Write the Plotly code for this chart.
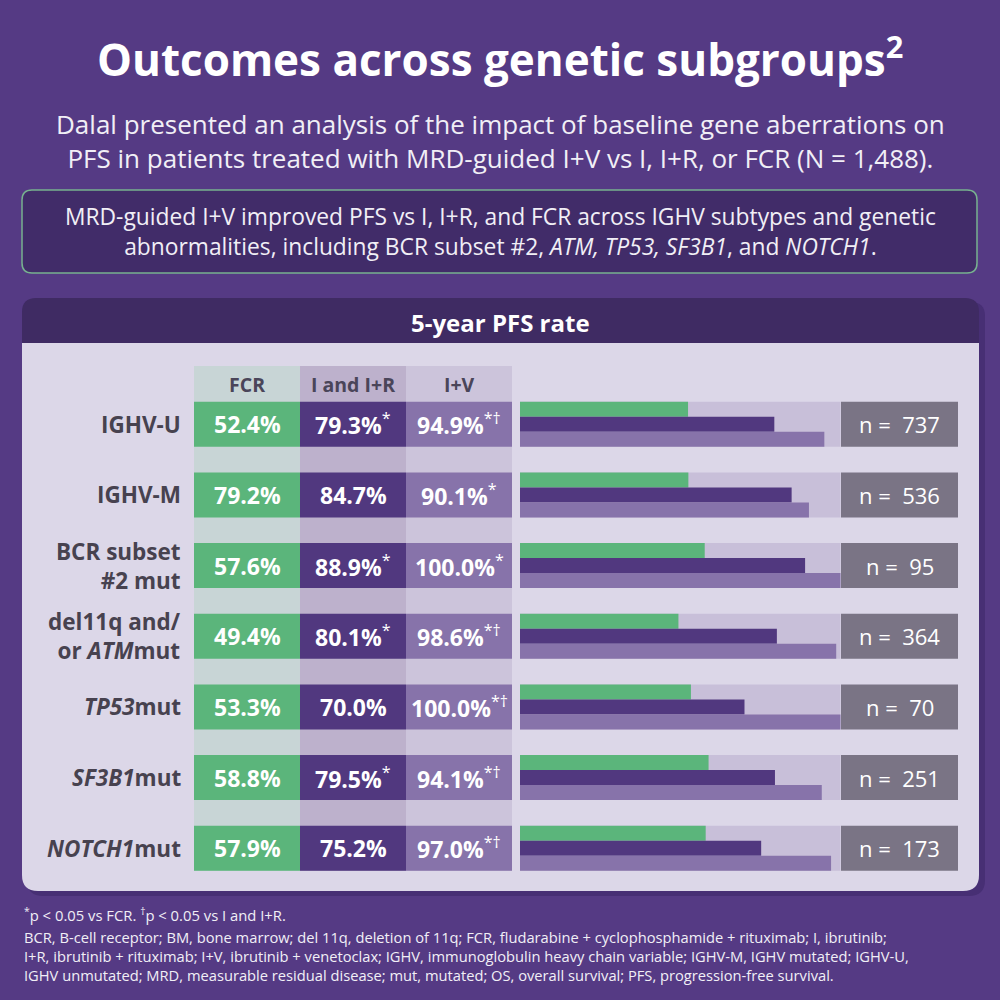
import plotly.graph_objects as go

# data
groups = ['IGHV-U', 'IGHV-M', 'BCR subset<br>#2 mut', 'del11q and/<br>or <i>ATM</i>mut',
          '<i>TP53</i>mut', '<i>SF3B1</i>mut', '<i>NOTCH1</i>mut']
fcr = [52.4, 79.2, 57.6, 49.4, 53.3, 58.8, 57.9]
i_ir = [79.3, 84.7, 88.9, 80.1, 70.0, 79.5, 75.2]
i_v = [94.9, 90.1, 100.0, 98.6, 100.0, 94.1, 97.0]
# FCR bar lengths as drawn in the source graphic (IGHV-M bar is drawn at ~52.5)
fcr_bar = [52.4, 52.5, 57.6, 49.4, 53.3, 58.8, 57.9]
i_ir_marks = ['*', '', '*', '*', '', '*', '']
i_v_marks = ['*†', '*', '*', '*†', '*†', '*†', '*†']
n_pts = [737, 536, 95, 364, 70, 251, 173]
columns = ['FCR', 'I and I+R', 'I+V']
scale_max = [100] * len(groups)

BG = '#553a84'
DARK = '#3f2b63'
PANEL = '#dcd7e8'
GREEN = '#5bb57b'
PURPLE = '#51387f'
LILAC = '#8773aa'
TRACK = '#c8bfd9'
NBOX = '#7a7485'
TXT = '#47424f'
LIGHT = '#f1eff6'
FONT = 'Open Sans'

rows = list(range(len(groups)))
cell_h = 0.637


def px(x):
    return x / 1000


def py(y):
    return 1 - y / 1000


def rrect(x0, y0, x1, y1, r_top, r_bot):
    # rounded rectangle path in pixel coords -> paper coords
    pts = [
        f"M{px(x0 + r_top)},{py(y0)}",
        f"L{px(x1 - r_top)},{py(y0)}",
        f"Q{px(x1)},{py(y0)} {px(x1)},{py(y0 + r_top)}",
        f"L{px(x1)},{py(y1 - r_bot)}",
        f"Q{px(x1)},{py(y1)} {px(x1 - r_bot)},{py(y1)}",
        f"L{px(x0 + r_bot)},{py(y1)}",
        f"Q{px(x0)},{py(y1)} {px(x0)},{py(y1 - r_bot)}",
        f"L{px(x0)},{py(y0 + r_top)}",
        f"Q{px(x0)},{py(y0)} {px(x0 + r_top)},{py(y0)}",
        "Z",
    ]
    return ' '.join(pts)


def note(x, y, text, size, color=LIGHT, xanchor='center', yref='paper', **kw):
    return dict(xref='paper', yref=yref, x=x, y=y, text=text, showarrow=False,
                xanchor=xanchor, yanchor='middle', font=dict(size=size, color=color), **kw)


fig = go.Figure()

bar_kw = dict(orientation='h', hoverinfo='skip', showlegend=False, marker_line_width=0, textposition='none')
fig.add_trace(go.Bar(x=scale_max, y=rows, width=cell_h, offset=-cell_h / 2, marker_color=TRACK, **bar_kw))
fig.add_trace(go.Bar(x=fcr_bar, y=rows, width=cell_h / 3, offset=-cell_h / 2, marker_color=GREEN, **bar_kw))
fig.add_trace(go.Bar(x=i_ir, y=rows, width=cell_h / 3, offset=-cell_h / 6, marker_color=PURPLE, **bar_kw))
fig.add_trace(go.Bar(x=i_v, y=rows, width=cell_h / 3, offset=cell_h / 6, marker_color=LILAC, **bar_kw))

shapes = []
annotations = []

# key message box
shapes.append(dict(type='path', xref='paper', yref='paper', layer='below',
                   path=rrect(22, 190, 977, 273, 10, 10), fillcolor='#412c69',
                   line=dict(color='#77b18f', width=1.5)))

# panel shadow, header and body
shapes.append(dict(type='path', xref='paper', yref='paper', layer='below',
                   path=rrect(27, 302, 985, 896, 14, 16), fillcolor='#472f74', line_width=0))
shapes.append(dict(type='path', xref='paper', yref='paper', layer='below',
                   path=rrect(22, 298, 979, 360, 14, 0), fillcolor=DARK, line_width=0))
shapes.append(dict(type='path', xref='paper', yref='paper', layer='below',
                   path=rrect(22, 343, 979, 891, 0, 16), fillcolor=PANEL, line_width=0))

# column bands
col_x = [194, 300, 406, 512]
col_bg = ['#c8d5d6', '#bdb1cc', '#ccc4db']
cell_fill = [GREEN, PURPLE, LILAC]
for c in range(3):
    shapes.append(dict(type='rect', xref='paper', yref='paper', layer='below',
                       x0=px(col_x[c]), x1=px(col_x[c + 1]), y0=py(366), y1=py(871),
                       fillcolor=col_bg[c], line_width=0))
    annotations.append(note(px((col_x[c] + col_x[c + 1]) / 2), py(384),
                            f"<b>{columns[c]}</b>", 19.5, color='#4a4559'))

# table cells, labels and n boxes
for i in rows:
    vals = [fcr[i], i_ir[i], i_v[i]]
    marks = ['', i_ir_marks[i], i_v_marks[i]]
    for c in range(3):
        shapes.append(dict(type='rect', xref='paper', yref='y', layer='below',
                           x0=px(col_x[c]), x1=px(col_x[c + 1]),
                           y0=i - cell_h / 2, y1=i + cell_h / 2,
                           fillcolor=cell_fill[c], line_width=0))
        label = f"<b>{vals[c]:.1f}%</b>"
        if marks[c]:
            label += f"<sup>{marks[c]}</sup>"
        annotations.append(note(px((col_x[c] + col_x[c + 1]) / 2), i, label, 23,
                                color='white', yref='y'))
    annotations.append(note(px(183), i, f"<b>{groups[i]}</b>", 22.5, color=TXT,
                            xanchor='right', yref='y', align='right'))
    shapes.append(dict(type='rect', xref='paper', yref='y', layer='below',
                       x0=px(841), x1=px(958), y0=i - cell_h / 2, y1=i + cell_h / 2,
                       fillcolor=NBOX, line_width=0))
    annotations.append(note(px(899.5), i, f"n =\u00a0 {n_pts[i]}", 22, color='white', yref='y'))

# texts
annotations += [
    note(0.5, py(57), "<b>Outcomes across genetic subgroups<sup>2</sup></b>", 44, color='white'),
    note(0.5, py(141), "Dalal presented an analysis of the impact of baseline gene aberrations on<br>"
                       "PFS in patients treated with MRD-guided I+V vs I, I+R, or FCR (N = 1,488).", 26),
    note(0.5, py(231.5), "MRD-guided I+V improved PFS vs I, I+R, and FCR across IGHV subtypes and genetic<br>"
                         "abnormalities, including BCR subset #2, <i>ATM, TP53, SF3B1</i>, and <i>NOTCH1</i>.", 22.8),
    note(0.5, py(322), "<b>5-year PFS rate</b>", 24, color='white'),
    note(px(22), py(914), "<sup>*</sup>p &lt; 0.05 vs FCR. <sup>†</sup>p &lt; 0.05 vs I and I+R.", 14.8,
         xanchor='left'),
]
foot = [
    "BCR, B-cell receptor; BM, bone marrow; del 11q, deletion of 11q; FCR, fludarabine + cyclophosphamide + rituximab; I, ibrutinib;",
    "I+R, ibrutinib + rituximab; I+V, ibrutinib + venetoclax; IGHV, immunoglobulin heavy chain variable; IGHV-M, IGHV mutated; IGHV-U,",
    "IGHV unmutated; MRD, measurable residual disease; mut, mutated; OS, overall survival; PFS, progression-free survival.",
]
annotations.append(note(px(22), py(955.5), '<br>'.join(foot), 14.7, xanchor='left', align='left'))

fig.update_layout(
    width=1000, height=1000,
    margin=dict(l=0, r=0, t=0, b=0),
    paper_bgcolor=BG, plot_bgcolor='rgba(0,0,0,0)',
    font=dict(family=FONT),
    barmode='overlay',
    xaxis=dict(domain=[px(520), px(840.7)], range=[0, 100], visible=False, fixedrange=True),
    yaxis=dict(domain=[py(883.6), py(388.9)], range=[6.5, -0.5], visible=False, fixedrange=True),
    shapes=shapes, annotations=annotations,
)

fig.write_html("out.html", config={'displayModeBar': False},
               post_script="document.body.style.margin = '0';")
